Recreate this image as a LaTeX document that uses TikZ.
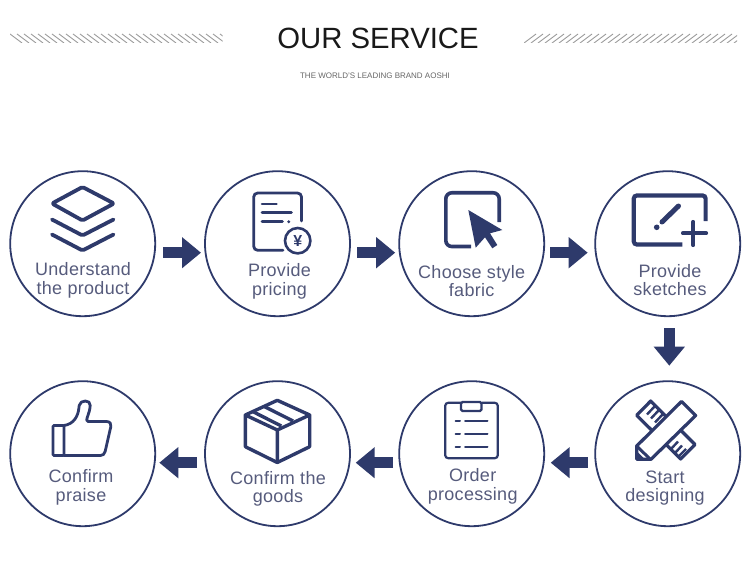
\documentclass[tikz,border=0pt]{standalone}
\usepackage{fontspec}
\setmainfont{Liberation Sans}
\usepackage{xcolor}
\usetikzlibrary{positioning,arrows.meta}
\definecolor{navy}{HTML}{2E3A6B}
\definecolor{labelgrey}{HTML}{565B7C}
\definecolor{hatch}{HTML}{9A9A9A}

\begin{document}
\begin{tikzpicture}[x=1pt, y=-1pt,
  stepcirc/.style={draw=navy, circle, line width=1.8pt, minimum size=145pt, inner sep=0pt, outer sep=0pt},
  lbl/.style={align=center, text=labelgrey, inner sep=0pt, font=\fontsize{18}{18.6}\selectfont\addfontfeature{LetterSpace=1.7}},
  blockarr/.style={-{Triangle[length=19pt,width=30pt]}, draw=navy, fill=navy, line width=11pt},
  icon/.style={draw=navy, line width=3.4pt, rounded corners=1.5pt, line cap=round},
  thinicon/.style={icon, line width=2.2pt}
]
\useasboundingbox (0,0) rectangle (750,575);
% heading
\node[font=\fontsize{29.3}{30}\selectfont, text=black!90, inner sep=0pt] (title) at (378,38.5) {OUR SERVICE};
\node[font=\fontsize{8}{8}\selectfont, text=black!60, inner sep=0pt] (subtitle) at (375,76) {THE WORLD'S LEADING BRAND AOSHI};
\begin{scope}
  \clip (10,34) rectangle (222.5,43);
  \foreach \x in {10,17,...,220} \draw[hatch, line width=0.9pt] (\x,34) -- (\x+12,43);
\end{scope}
\begin{scope}
  \clip (524,34) rectangle (737,43);
  \foreach \x in {524,531,...,740} \draw[hatch, line width=0.9pt] (\x,43) -- (\x+12,34);
\end{scope}
% circles
\node[stepcirc] (under) at (82.7,243.7) {};
\node[stepcirc, right=49.8pt of under] (price) {};
\node[stepcirc, right=49.2pt of price] (style) {};
\node[stepcirc, right=51pt of style] (sketch) {};
\node[stepcirc, below=65pt of sketch] (start) {};
\node[stepcirc, left=51pt of start] (order) {};
\node[stepcirc, left=49.2pt of order] (goods) {};
\node[stepcirc, left=49.8pt of goods] (praise) {};
% labels
\node[lbl] (underlbl) at (83,280.3) {Understand\\the product};
\node[lbl] (pricelbl) at (279.5,281.5) {Provide\\pricing};
\node[lbl] (stylelbl) at (471.7,281) {Choose style\\fabric};
\node[lbl] (sketchlbl) at (670,280) {Provide\\sketches};
\node[lbl] (startlbl) at (665,488) {Start\\designing};
\node[lbl] (orderlbl) at (472.7,486.5) {Order\\processing};
\node[lbl] (goodslbl) at (278,489) {Confirm the\\goods};
\node[lbl] (praiselbl) at (81,487.5) {Confirm\\praise};
% arrows
\draw[blockarr, shorten <=8pt, shorten >=4pt] ([yshift=-9pt]under.east) -- ([yshift=-9pt]price.west);
\draw[blockarr, shorten <=7.3pt, shorten >=4pt] ([yshift=-9pt]price.east) -- ([yshift=-9pt]style.west);
\draw[blockarr, shorten <=6pt, shorten >=7.5pt] ([yshift=-9pt]style.east) -- ([yshift=-9pt]sketch.west);
\draw[blockarr, shorten <=12.2pt, shorten >=15.5pt] ([xshift=1.6pt]sketch.south) -- ([xshift=1.6pt]start.north);
\draw[blockarr, shorten <=7.5pt, shorten >=6.5pt] ([yshift=-9pt]start.west) -- ([yshift=-9pt]order.east);
\draw[blockarr, shorten <=6.2pt, shorten >=5.7pt] ([yshift=-9pt]order.west) -- ([yshift=-9pt]goods.east);
\draw[blockarr, shorten <=8.3pt, shorten >=4.1pt] ([yshift=-9pt]goods.west) -- ([yshift=-9pt]praise.east);
% layers
\draw[icon, line width=3.8pt, line join=round] (52,203.5) -- (82.5,187) -- (114,203.5) -- (82.5,220.5) -- cycle;
\draw[icon, line width=3.8pt] (52,219.5) -- (82.5,235.5) -- (113.5,219.5);
\draw[icon, line width=3.8pt] (52,234.5) -- (82.5,250.5) -- (113.5,234.5);
% price sheet
\draw[icon, line width=2.8pt, rounded corners=4pt] (301.5,221) -- (301.5,193) -- (253.7,193) -- (253.7,250.3) -- (283,250.3);
\draw[icon, line width=2.6pt] (262,204) -- (276.5,204);
\draw[icon, line width=2.6pt] (262,212.7) -- (291.5,212.7);
\draw[icon, line width=2.6pt] (262,221.7) -- (282.5,221.7);
\fill[navy] (288.7,221.7) circle (1.6pt);
\draw[navy, line width=2.6pt] (297.7,240.7) circle (12.7pt);
\node[text=navy, inner sep=0pt, font=\fontsize{16}{16}\selectfont\bfseries] (yen) at (297.7,240.7) {¥};
% cursor
\draw[icon, line width=3.6pt, rounded corners=6pt, line cap=butt] (499.2,222) -- (499.2,192.8) -- (445.8,192.8) -- (445.8,246.5) -- (471,246.5);
\fill[navy] (468.3,210) -- (502.3,230) -- (490,233.3) -- (497.3,245) -- (492.3,248.3) -- (485,237.3) -- (475.7,247.7) -- cycle;
% tablet
\draw[icon, line width=4.2pt, rounded corners=3pt, line cap=butt] (705.6,221) -- (705.6,195.5) -- (633.8,195.5) -- (633.8,244.5) -- (682.3,244.5);
\draw[icon, line width=4.2pt] (683,233.3) -- (706,233.3);
\draw[icon, line width=4.2pt] (693.3,222) -- (693.3,245);
\draw[icon, line width=5pt] (678.5,206) -- (662,222);
\fill[navy] (656.7,227.3) circle (2.8pt);
% tools
\draw[icon, line width=3.2pt, rounded corners=0pt, line join=round] (636.7,459.3) -- (636.7,446) -- (681.5,401.5) -- (695.7,415.5) -- (651,459.3) -- cycle;
\draw[icon, line width=3pt, rounded corners=0pt] (636.7,446) -- (650,459);
\fill[navy] (636.7,459.3) -- (636.7,451) -- (645,459.3) -- cycle;
\draw[icon, line width=3.2pt, rounded corners=0pt, line join=round] (651.5,430) -- (636.7,415.3) -- (650.7,401) -- (665.5,416);
\draw[icon, line width=2.4pt, rounded corners=0pt, line cap=butt] (655,406) -- (647,414.5);
\draw[icon, line width=2.4pt, rounded corners=0pt, line cap=butt] (659,410) -- (651,418.5);
\draw[icon, line width=2.4pt, rounded corners=0pt, line cap=butt] (663,414) -- (655,422.5);
\draw[icon, line width=3.2pt, rounded corners=0pt, line join=round] (680.5,430) -- (695,444.5) -- (680.7,459) -- (666.3,444.7);
\draw[icon, line width=2.4pt, rounded corners=0pt, line cap=butt] (671,449) -- (678,441.5);
\draw[icon, line width=2.4pt, rounded corners=0pt, line cap=butt] (675,453) -- (682,445.5);
\draw[icon, line width=2.4pt, rounded corners=0pt, line cap=butt] (678.5,456.5) -- (686,449);
% clipboard
\draw[thinicon, rounded corners=3pt, line cap=butt] (481.7,402.8) -- (497.8,402.8) -- (497.8,458.2) -- (445.2,458.2) -- (445.2,402.8) -- (461,402.8);
\draw[thinicon, rounded corners=1.5pt] (461,402) rectangle (481.5,411);
\draw[thinicon, line width=2pt] (455.7,421) -- (460,421) (465,421) -- (487.5,421);
\draw[thinicon, line width=2pt] (455.7,434) -- (460,434) (465,434) -- (487.5,434);
\draw[thinicon, line width=2pt] (455.7,447) -- (460,447) (465,447) -- (487.5,447);
% parcel
\draw[icon, rounded corners=0.5pt, line join=round] (277.3,400.3) -- (309.7,415) -- (309.7,446.7) -- (277.3,462.5) -- (245.3,446.7) -- (245.3,415) -- cycle;
\draw[icon, rounded corners=0.5pt] (245.3,415) -- (277.3,430) -- (309.7,415) (277.3,430) -- (277.3,462.5);
\draw[icon, line cap=butt] (264.7,406.7) -- (293,421);
\draw[icon, line cap=butt] (253,411.7) -- (281.3,426);
% thumb
\draw[icon, line width=2.8pt, rounded corners=1pt] (64,425.5) -- (53,425.5) -- (53,455.5) -- (64,455.5) -- cycle;
\draw[icon, line width=2.8pt, line join=round] (64,425.5) .. controls (74,424) and (78,416) .. (79,407) .. controls (80,399.5) and (91,399.5) .. (90,407) .. controls (89.5,412) and (87,417) .. (86.5,421.5) -- (105,421.5) .. controls (110,421.5) and (111.5,424) .. (110.5,428) -- (105.5,450) .. controls (104.5,454) and (103,455.5) .. (99,455.5) -- (64,455.5);
\end{tikzpicture}
\end{document}
